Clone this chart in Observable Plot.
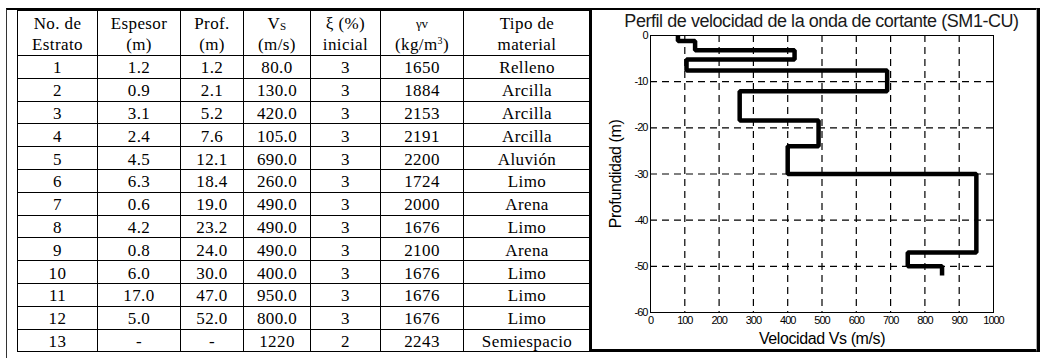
<!DOCTYPE html>
<html>
<head>
<meta charset="utf-8">
<script src="https://cdn.jsdelivr.net/npm/d3@7"></script>
<script src="https://cdn.jsdelivr.net/npm/@observablehq/plot@0.6"></script>
<style>
  html, body { margin: 0; padding: 0; background: #fff; width: 1040px; height: 360px; overflow: hidden; }
  .abs { position: absolute; }
  #outer { left: 6px; top: 8px; width: 1030px; height: 350px; border-top: 2px solid #000; border-left: 1px solid #333; box-sizing: border-box; }
  table#tab { position: absolute; left: 17px; top: 10px; border-collapse: collapse; table-layout: fixed;
    font-family: "Liberation Serif", "Times New Roman", serif; font-size: 17px; letter-spacing: 0.4px; color: #000; }
  #tab td, #tab th { border-top: 1px solid #000; border-bottom: 1px solid #000; border-left: 1.5px solid #000; border-right: 1.5px solid #000;
    padding: 0; text-align: center; vertical-align: middle; font-weight: normal; }
  #tab thead tr { height: 44px; }
  #tab thead th { line-height: 21px; padding-top: 1px; }
  #tab tbody tr { height: 22.8px; }
  #tab tbody td { line-height: 17px; padding-top: 2px; }
  #tab sup { font-size: 10px; vertical-align: 6px; line-height: 0; }
  #tab sub { font-size: 11px; vertical-align: -1px; line-height: 0; }
  .gv { font-size: 13px; letter-spacing: 0; }
  #box { left: 589px; top: 8px; width: 448px; height: 344px; border-left: 3px solid #000; border-top: 2px solid #000; border-bottom: 3px solid #000; border-right: 1px solid #aaa; box-sizing: border-box; }
  #rbar { left: 1037px; top: 8px; width: 3px; height: 344px; background: #000; }
  #title { left: 821.5px; top: 12px; transform: translateX(-50%); white-space: nowrap; font-family: "Liberation Sans", Arial, sans-serif;
    font-size: 18px; line-height: 18px; letter-spacing: -0.45px; color: #1a1a1a; }
  #chart { left: 593px; top: 12px; }
  #chart svg { overflow: visible; }
  #chart g[aria-label="x-axis tick label"] text, #chart g[aria-label="y-axis tick label"] text { letter-spacing: -1px; }
  #chart g[aria-label="x-axis label"] text, #chart g[aria-label="y-axis label"] text { font-size: 16px; letter-spacing: -0.4px; }
</style>
</head>
<body>
<div id="outer" class="abs"></div>
<table id="tab">
  <colgroup>
    <col style="width:80px"><col style="width:83px"><col style="width:63px"><col style="width:67px"><col style="width:70px"><col style="width:83px"><col style="width:127px">
  </colgroup>
  <thead>
    <tr>
      <th>No. de<br>Estrato</th>
      <th>Espesor<br>(m)</th>
      <th>Prof.<br>(m)</th>
      <th>V<sub>S</sub><br>(m/s)</th>
      <th>ξ (%)<br>inicial</th>
      <th><span class="gv">γv</span><br>(kg/m<sup>3</sup>)</th>
      <th>Tipo de<br>material</th>
    </tr>
  </thead>
  <tbody id="tbody"></tbody>
</table>
<div id="box" class="abs"></div>
<div id="rbar" class="abs"></div>
<div id="title" class="abs">Perfil de velocidad de la onda de cortante (SM1-CU)</div>
<div id="chart" class="abs"></div>
<script>
// ---- Table data ----
const estrato = ["1","2","3","4","5","6","7","8","9","10","11","12","13"];
const espesor = ["1.2","0.9","3.1","2.4","4.5","6.3","0.6","4.2","0.8","6.0","17.0","5.0","-"];
const prof    = ["1.2","2.1","5.2","7.6","12.1","18.4","19.0","23.2","24.0","30.0","47.0","52.0","-"];
const vsTab   = ["80.0","130.0","420.0","105.0","690.0","260.0","490.0","490.0","490.0","400.0","950.0","800.0","1220"];
const xiIni   = ["3","3","3","3","3","3","3","3","3","3","3","3","2"];
const gammaV  = ["1650","1884","2153","2191","2200","1724","2000","1676","2100","1676","1676","1676","2243"];
const tipo    = ["Relleno","Arcilla","Arcilla","Arcilla","Aluvión","Limo","Arena","Limo","Arena","Limo","Limo","Limo","Semiespacio"];

// ---- Chart data (read from the plotted profile) ----
const layerDepth = [0, 1.2, 3.2, 5.2, 7.6, 12.1, 18.4, 24.0, 30.0, 47.0, 50.0, 52.0]; // layer boundaries (m)
const layerVs    = [80, 130, 420, 105, 690, 260, 490, 400, 950, 750, 850];            // Vs of each layer (m/s)
const xTicks = [0, 100, 200, 300, 400, 500, 600, 700, 800, 900, 1000];
const yTicks = [0, -10, -20, -30, -40, -50, -60];

// build table
const tb = document.getElementById("tbody");
estrato.forEach((e, i) => {
  const tr = document.createElement("tr");
  [e, espesor[i], prof[i], vsTab[i], xiIni[i], gammaV[i], tipo[i]].forEach(v => {
    const td = document.createElement("td");
    td.textContent = v;
    tr.appendChild(td);
  });
  tb.appendChild(tr);
});

// profile vertices
const profile = layerVs.flatMap((v, i) => [
  {v, z: -layerDepth[i]},
  {v, z: -layerDepth[i + 1]}
]);

const chart = Plot.plot({
  width: 440,
  height: 336,
  marginLeft: 57,
  marginRight: 40,
  marginTop: 23,
  marginBottom: 36,
  style: {fontFamily: "'Liberation Sans', Arial, sans-serif", fontSize: "11px", background: "transparent", color: "#000"},
  x: {domain: [0, 1000]},
  y: {domain: [-60, 0]},
  marks: [
    Plot.gridX(xTicks.slice(1, -1), {stroke: "#000", strokeOpacity: 1, strokeWidth: 1.2, strokeDasharray: "7,5"}),
    Plot.gridY(yTicks.slice(1, -1), {stroke: "#000", strokeOpacity: 1, strokeWidth: 1.2, strokeDasharray: "7,5"}),
    Plot.frame({stroke: "#000", strokeWidth: 1}),
    Plot.axisX(xTicks, {tickSize: 0, tickPadding: 4, fontSize: 11, tickFormat: d => String(d),
      label: "Velocidad Vs (m/s)", labelAnchor: "center", labelArrow: "none", labelOffset: 31}),
    Plot.axisY(yTicks, {tickSize: 0, tickPadding: 3, fontSize: 11, tickFormat: d => String(d),
      label: "Profundidad (m)", labelAnchor: "center", labelArrow: "none", labelOffset: 41}),
    Plot.line(profile, {x: "v", y: "z", stroke: "#000", strokeWidth: 4.5, strokeLinejoin: "miter", strokeLinecap: "butt"})
  ]
});
document.getElementById("chart").appendChild(chart);
</script>
</body>
</html>
